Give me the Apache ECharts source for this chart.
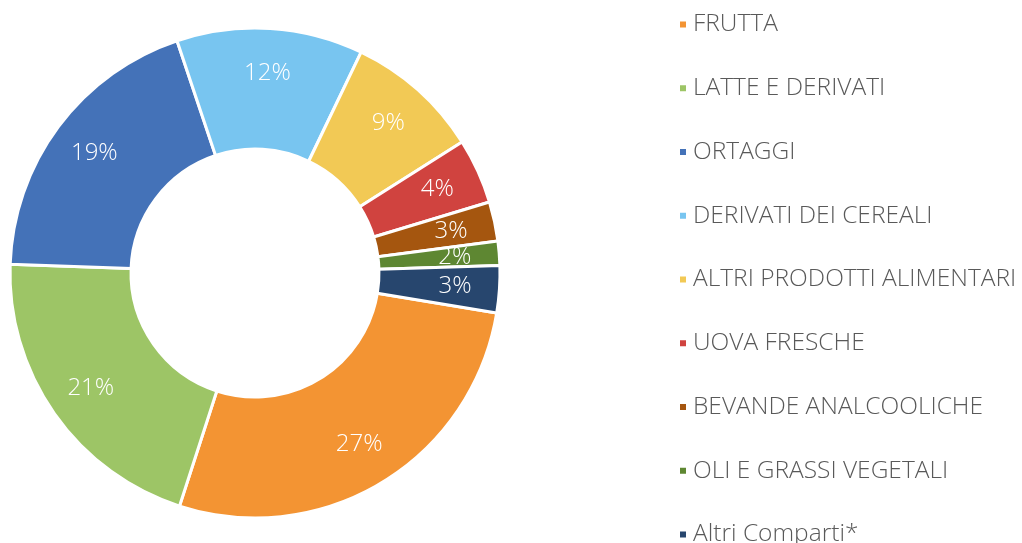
<!DOCTYPE html>
<html lang="it">
<head>
<meta charset="UTF-8">
<title>Comparti</title>
<script src="https://cdn.jsdelivr.net/npm/echarts@6/dist/echarts.min.js"></script>
<style>
  html, body { margin: 0; padding: 0; background: #fff; }
  #chart { width: 1022px; height: 543px; }
</style>
</head>
<body>
<div id="chart"></div>
<script>
// categorie e quote (%)
var categories = ['FRUTTA', 'LATTE E DERIVATI', 'ORTAGGI', 'DERIVATI DEI CEREALI', 'ALTRI PRODOTTI ALIMENTARI',
                  'UOVA FRESCHE', 'BEVANDE ANALCOOLICHE', 'OLI E GRASSI VEGETALI', 'Altri Comparti*'];
var shares = [27.4, 20.6, 19.3, 12.3, 8.9, 4.3, 2.6, 1.6, 3.1];
var colors = ['#f39433', '#9dc566', '#4472b8', '#78c5f0', '#f2c955', '#d0433f', '#a5560f', '#5e8732', '#27466e'];

var font = '"Open Sans", Lato, sans-serif';
var pieData = categories.map(function (c, i) { return { name: c, value: shares[i] }; });

var chart = echarts.init(document.getElementById('chart'));
var option = {
  animation: false,
  color: colors,
  legend: {
    orient: 'vertical',
    left: 673,
    top: 7,
    height: 600,
    icon: 'rect',
    itemWidth: 8,
    itemHeight: 8,
    itemGap: 38.75,
    data: categories,
    textStyle: {
      fontFamily: font,
      fontWeight: 300,
      fontSize: 24.5,
      lineHeight: 24,
      color: '#595959',
      padding: [0, 0, 0, 1]
    }
  },
  series: [{
    type: 'pie',
    center: [255, 273],
    radius: [124, 245],
    startAngle: -9.4,
    itemStyle: { borderColor: '#fff', borderWidth: 3 },
    label: { show: false },
    labelLine: { show: false },
    data: pieData
  }, {
    // solo etichette, un po' più verso l'esterno come nell'originale
    type: 'pie',
    center: [255, 273],
    radius: [150, 245],
    startAngle: -9.4,
    silent: true,
    itemStyle: { color: 'rgba(0,0,0,0)' },
    label: {
      position: 'inside',
      color: '#fff',
      fontFamily: font,
      fontWeight: 300,
      fontSize: 24,
      formatter: function (p) { return Math.round(p.value) + '%'; }
    },
    labelLine: { show: false },
    data: pieData
  }]
};
chart.setOption(option);
</script>
</body>
</html>
